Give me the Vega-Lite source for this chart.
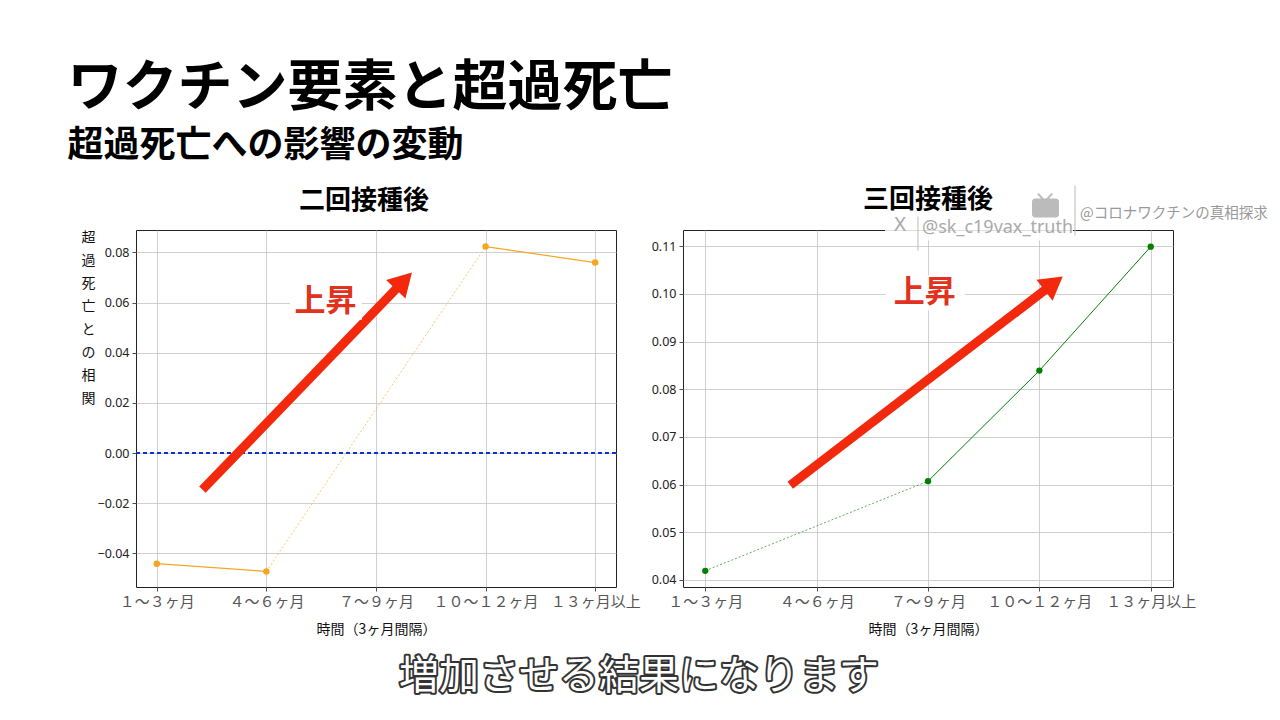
{
  "$schema": "https://vega.github.io/schema/vega-lite/v6.json",
  "background": "white",
  "padding": {"left": 67, "top": 60, "right": 0, "bottom": 16},
  "config": {
    "font": "Noto Sans CJK JP",
    "view": {"stroke": "#222", "strokeWidth": 1},
    "axis": {
      "grid": true,
      "gridColor": "#c4c4c4",
      "gridWidth": 0.8,
      "domain": false,
      "tickColor": "#222",
      "tickSize": 4,
      "tickWidth": 0.8,
      "labelPadding": 3
    },
    "axisY": {"labelFont": "Noto Sans", "labelFontSize": 12.5, "labelColor": "#222"},
    "axisX": {
      "labelFont": "Noto Sans CJK JP",
      "labelFontSize": 15,
      "labelColor": "#555",
      "labelFlush": false,
      "labelOverlap": false,
      "titleFontSize": 14,
      "titleFontWeight": "normal",
      "titleColor": "#111",
      "titlePadding": 13
    }
  },
  "title": {
    "text": "ワクチン要素と超過死亡",
    "subtitle": "超過死亡への影響の変動",
    "anchor": "start",
    "frame": "bounds",
    "fontSize": 55,
    "fontWeight": "bold",
    "color": "black",
    "subtitleFontSize": 36,
    "subtitleFontWeight": "bold",
    "subtitleColor": "black",
    "subtitlePadding": 12,
    "offset": 20,
    "dx": -13
  },
  "bounds": "flush",
  "spacing": 425,
  "vconcat": [
    {
      "bounds": "flush",
      "spacing": 67,
      "hconcat": [
        {
          "width": 480,
          "height": 357,
          "title": {"text": "二回接種後", "fontSize": 26, "fontWeight": "bold", "offset": 16, "dx": -12},
          "data": {
            "values": [
              {"idx": 0, "period": "1〜3ヶ月", "value": -0.0441, "grp": "a", "gap": false},
              {"idx": 1, "period": "4〜6ヶ月", "value": -0.0472, "grp": "a", "gap": true},
              {"idx": 3, "period": "10〜12ヶ月", "value": 0.0823, "grp": "b", "gap": true},
              {"idx": 4, "period": "13ヶ月以上", "value": 0.0759, "grp": "b", "gap": false}
            ]
          },
          "encoding": {
            "x": {
              "field": "idx",
              "type": "quantitative",
              "scale": {"domain": [-0.19, 4.19], "nice": false, "zero": false},
              "axis": {
                "values": [0, 1, 2, 3, 4],
                "labelExpr": "['１〜３ヶ月','４〜６ヶ月','７〜９ヶ月','１０〜１２ヶ月','１３ヶ月以上'][datum.value]",
                "title": "時間（3ヶ月間隔）"
              }
            },
            "y": {
              "field": "value",
              "type": "quantitative",
              "scale": {"domain": [-0.0534, 0.0889], "nice": false, "zero": false},
              "axis": {
                "values": [-0.04, -0.02, 0, 0.02, 0.04, 0.06, 0.08],
                "format": ".2f",
                "title": ["超", "過", "死", "亡", "と", "の", "相", "関"],
                "titleAngle": 0,
                "titleX": -48,
                "titleY": 0,
                "titleAlign": "center",
                "titleBaseline": "top",
                "titleLineHeight": 23,
                "titleFontSize": 14,
                "titleFontWeight": "normal",
                "titleColor": "#111"
              }
            }
          },
          "layer": [
            {
              "mark": {"type": "rule", "color": "#1030d0", "strokeWidth": 1.6, "strokeDash": [4, 3]},
              "encoding": {"y": {"datum": 0}, "x": null}
            },
            {
              "mark": {"type": "line", "color": "#f5a623", "strokeWidth": 1.2},
              "encoding": {"detail": {"field": "grp"}}
            },
            {
              "transform": [{"filter": "datum.gap"}],
              "mark": {"type": "line", "color": "#f5a623", "strokeWidth": 0.8, "strokeDash": [2, 2], "opacity": 0.8}
            },
            {
              "mark": {"type": "point", "filled": true, "size": 42, "color": "#f5a623", "opacity": 1}
            },
            {
              "data": {"values": [{"idx": 0.416, "value": -0.01463, "idx2": 2.254, "value2": 0.0686}]},
              "mark": {"type": "rule", "color": "#f2290c", "strokeWidth": 9, "strokeCap": "butt"},
              "encoding": {"x2": {"field": "idx2"}, "y2": {"field": "value2"}}
            },
            {
              "data": {"values": [{"idx": 2.254, "value": 0.0686}]},
              "mark": {"type": "point", "shape": "triangle-up", "filled": true, "size": 720, "angle": 44, "color": "#f2290c", "opacity": 1}
            },
            {
              "data": {"values": [{"idx": 1.215, "value": 0.0531, "idx2": 1.872, "value2": 0.0671}]},
              "mark": {"type": "rect", "color": "white", "opacity": 1},
              "encoding": {"x2": {"field": "idx2"}, "y2": {"field": "value2"}}
            },
            {
              "data": {"values": [{"idx": 1.54, "value": 0.0601, "label": "上昇"}]},
              "mark": {"type": "text", "fontSize": 31, "fontWeight": "bold", "color": "#e0321c", "baseline": "middle", "align": "center"},
              "encoding": {"text": {"field": "label"}}
            }
          ]
        },
        {
          "width": 490,
          "height": 357,
          "title": {"text": "三回接種後", "fontSize": 26, "fontWeight": "bold", "offset": 16, "dy": 44},
          "data": {
            "values": [
              {"idx": 0, "period": "1〜3ヶ月", "value": 0.0419, "grp": "a", "gap": true},
              {"idx": 2, "period": "7〜9ヶ月", "value": 0.0607, "grp": "b", "gap": true},
              {"idx": 3, "period": "10〜12ヶ月", "value": 0.0839, "grp": "b", "gap": false},
              {"idx": 4, "period": "13ヶ月以上", "value": 0.1099, "grp": "b", "gap": false}
            ]
          },
          "encoding": {
            "x": {
              "field": "idx",
              "type": "quantitative",
              "scale": {"domain": [-0.2, 4.2], "nice": false, "zero": false},
              "axis": {
                "values": [0, 1, 2, 3, 4],
                "labelExpr": "['１〜３ヶ月','４〜６ヶ月','７〜９ヶ月','１０〜１２ヶ月','１３ヶ月以上'][datum.value]",
                "title": "時間（3ヶ月間隔）"
              }
            },
            "y": {
              "field": "value",
              "type": "quantitative",
              "scale": {"domain": [0.0385, 0.1134], "nice": false, "zero": false},
              "axis": {
                "values": [0.04, 0.05, 0.06, 0.07, 0.08, 0.09, 0.10, 0.11],
                "format": ".2f",
                "title": null
              }
            }
          },
          "layer": [
            {
              "mark": {"type": "line", "color": "#008000", "strokeWidth": 1},
              "encoding": {"detail": {"field": "grp"}}
            },
            {
              "transform": [{"filter": "datum.gap"}],
              "mark": {"type": "line", "color": "#008000", "strokeWidth": 0.8, "strokeDash": [2, 2], "opacity": 0.8}
            },
            {
              "mark": {"type": "point", "filled": true, "size": 40, "color": "#008000", "opacity": 1}
            },
            {
              "data": {"values": [{"idx": 0.763, "value": 0.05985, "idx2": 3.128, "value2": 0.1022}]},
              "mark": {"type": "rule", "color": "#f2290c", "strokeWidth": 9, "strokeCap": "butt"},
              "encoding": {"x2": {"field": "idx2"}, "y2": {"field": "value2"}}
            },
            {
              "data": {"values": [{"idx": 3.128, "value": 0.1022}]},
              "mark": {"type": "point", "shape": "triangle-up", "filled": true, "size": 700, "angle": 52.5, "color": "#f2290c", "opacity": 1}
            },
            {
              "data": {"values": [{"idx": 1.623, "value": 0.0965, "idx2": 2.332, "value2": 0.1039}]},
              "mark": {"type": "rect", "color": "white", "opacity": 1},
              "encoding": {"x2": {"field": "idx2"}, "y2": {"field": "value2"}}
            },
            {
              "data": {"values": [{"idx": 1.97, "value": 0.1002, "label": "上昇"}]},
              "mark": {"type": "text", "fontSize": 31, "fontWeight": "bold", "color": "#e0321c", "baseline": "middle", "align": "center"},
              "encoding": {"text": {"field": "label"}}
            },
            {
              "data": {"values": [{"idx": 1.614, "value": 0.1112, "idx2": 3.302, "value2": 0.11623}]},
              "mark": {"type": "rect", "color": "white", "opacity": 0.85},
              "encoding": {"x2": {"field": "idx2"}, "y2": {"field": "value2"}}
            },
            {
              "data": {"values": [
                {"idx": 1.91, "value": 0.1091, "idx2": 1.91, "value2": 0.11623},
                {"idx": 3.32, "value": 0.11225, "idx2": 3.32, "value2": 0.12273}
              ]},
              "mark": {"type": "rule", "color": "#bbbbbb", "strokeWidth": 1},
              "encoding": {"x2": {"field": "idx2"}, "y2": {"field": "value2"}}
            },
            {
              "data": {"values": [{"idx": 2.934, "value": 0.11602, "idx2": 3.176, "value2": 0.12}]},
              "mark": {"type": "rect", "color": "#bbbbbb", "opacity": 1, "cornerRadius": 3},
              "encoding": {"x2": {"field": "idx2"}, "y2": {"field": "value2"}}
            },
            {
              "data": {"values": [
                {"idx": 2.988, "value": 0.12105, "idx2": 3.051, "value2": 0.11937},
                {"idx": 3.114, "value": 0.12105, "idx2": 3.051, "value2": 0.11937}
              ]},
              "mark": {"type": "rule", "color": "#bbbbbb", "strokeWidth": 2},
              "encoding": {"x2": {"field": "idx2"}, "y2": {"field": "value2"}}
            },
            {
              "data": {"values": [{"idx": 1.749, "value": 0.11309, "label": "X"}]},
              "mark": {"type": "text", "font": "DejaVu Sans", "fontSize": 19, "fontWeight": "normal", "color": "#aaaaaa", "align": "center", "baseline": "alphabetic"},
              "encoding": {"text": {"field": "label"}}
            },
            {
              "data": {"values": [{"idx": 1.946, "value": 0.11267, "label": "@sk_c19vax_truth"}]},
              "mark": {"type": "text", "font": "Noto Sans", "fontSize": 18, "color": "#aaaaaa", "align": "left", "baseline": "alphabetic"},
              "encoding": {"text": {"field": "label"}}
            },
            {
              "data": {"values": [{"idx": 3.365, "value": 0.11602, "label": "@コロナワクチンの真相探求"}]},
              "mark": {"type": "text", "fontSize": 14.5, "color": "#999999", "align": "left", "baseline": "alphabetic"},
              "encoding": {"text": {"field": "label"}}
            }
          ]
        }
      ]
    },
    {
      "width": 1035,
      "height": 44,
      "view": {"stroke": null},
      "data": {"values": [{"caption": "増加させる結果になります"}]},
      "encoding": {
        "x": {"datum": 0.486, "type": "quantitative", "scale": {"domain": [0, 1]}, "axis": null},
        "y": {"datum": 0.5, "type": "quantitative", "scale": {"domain": [0, 1]}, "axis": null},
        "text": {"field": "caption"}
      },
      "layer": [
        {"mark": {"type": "text", "fontSize": 40, "fill": "#333", "stroke": "#333", "strokeWidth": 4, "strokeJoin": "round", "baseline": "middle", "align": "center"}},
        {"mark": {"type": "text", "fontSize": 40, "fill": "white", "baseline": "middle", "align": "center"}}
      ]
    }
  ]
}
